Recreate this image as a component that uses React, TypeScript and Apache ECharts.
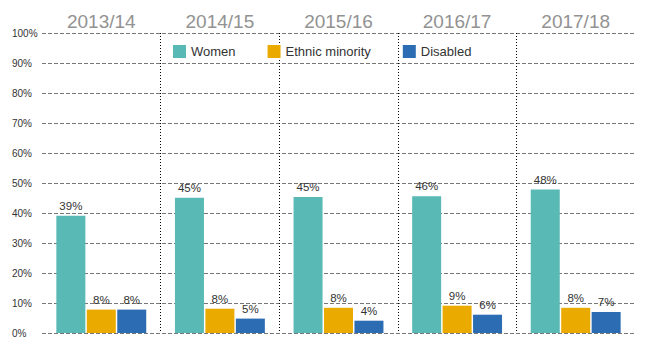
import React, { useEffect, useRef } from "react";
import * as echarts from "echarts";

const categories = ["2013/14", "2014/15", "2015/16", "2016/17", "2017/18"];
const women = [39.1, 45.1, 45.3, 45.6, 47.8];
const ethnicMinority = [7.8, 8.1, 8.4, 9.1, 8.4];
const disabled = [7.8, 4.8, 4.1, 6.1, 7.0];
const seriesNames = ["Women", "Ethnic minority", "Disabled"];
const colors = ["#58B9B5", "#EBAA00", "#2B6CB2"];

const FONT = "'Liberation Sans', Arial, sans-serif";

export default function App() {
  const ref = useRef<HTMLDivElement>(null);
  useEffect(() => {
    if (!ref.current) return;
    const chart = echarts.init(ref.current, undefined, { renderer: "svg" });
    const label = {
      show: true,
      position: "top" as const,
      distance: 4,
      color: "#333",
      fontSize: 11.5,
      fontFamily: FONT,
      formatter: (p: any) => Math.round(p.value) + "%",
    };
    const mk = (name: string, data: number[], color: string) => ({
      name,
      type: "bar",
      data,
      barWidth: 29,
      barGap: "5%",
      itemStyle: { color },
      label,
    });
    chart.setOption({
      animation: false,
      textStyle: { fontFamily: FONT },
      legend: {
        top: 40,
        left: 168,
        itemWidth: 13,
        itemHeight: 13,
        itemGap: 32,
        icon: "rect",
        textStyle: { color: "#333", fontSize: 13, fontFamily: FONT },
        data: seriesNames,
      },
      grid: { left: 42, right: 32, top: 33, bottom: 18 },
      xAxis: {
        type: "category",
        data: categories,
        position: "top",
        axisLine: { show: false },
        axisTick: { show: false },
        axisLabel: {
          color: "#929292",
          fontSize: 19,
          fontFamily: FONT,
          margin: 2,
        },
        splitLine: {
          show: true,
          showMinLine: false,
          showMaxLine: false,
          lineStyle: { color: "#000", type: [1, 2], width: 1 },
        },
      },
      yAxis: {
        type: "value",
        min: 0,
        max: 100,
        interval: 10,
        axisLine: { show: false },
        axisTick: { show: false },
        axisLabel: {
          formatter: "{value}%",
          color: "#333",
          fontSize: 10,
          fontFamily: FONT,
          align: "left",
          margin: 30,
        },
        splitLine: {
          show: true,
          lineStyle: { color: "#777", type: [4, 2], width: 1 },
        },
      },
      series: [
        mk(seriesNames[0], women, colors[0]),
        mk(seriesNames[1], ethnicMinority, colors[1]),
        mk(seriesNames[2], disabled, colors[2]),
      ],
    });
    return () => chart.dispose();
  }, []);
  return (
    <div
      ref={ref}
      style={{ position: "absolute", left: 0, top: 0, width: 667, height: 351 }}
    />
  );
}
